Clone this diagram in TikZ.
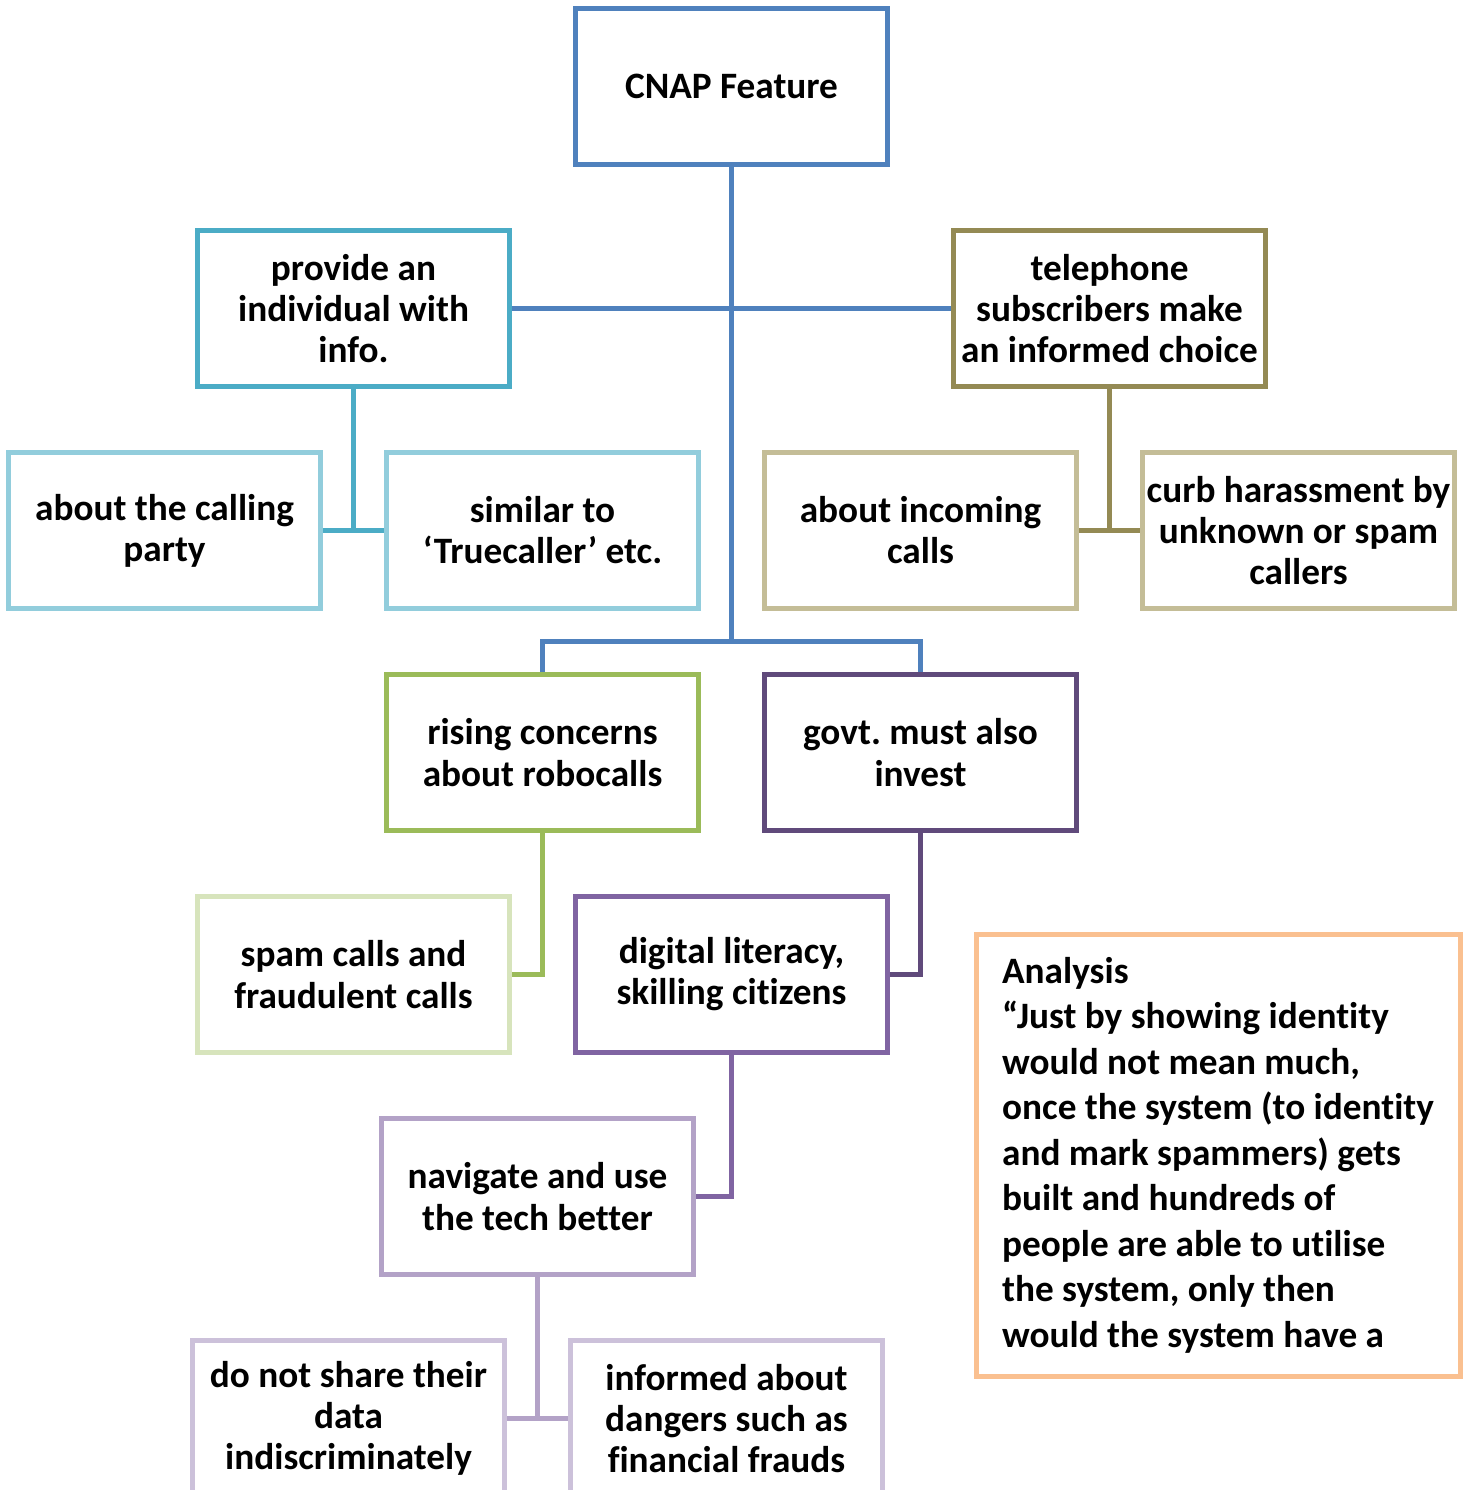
\documentclass[tikz,border=0pt]{standalone}
\usepackage{fontspec}
\setmainfont{Carlito}[Ligatures=NoCommon]
\usepackage{xcolor}
\usepackage{tikz}
\usetikzlibrary{positioning}
\frenchspacing

\definecolor{cnapblue}{HTML}{4F81BD}
\definecolor{cnapteal}{HTML}{4BACC6}
\definecolor{cnapteallight}{HTML}{92CDDC}
\definecolor{cnapolive}{HTML}{948A54}
\definecolor{cnapolivelight}{HTML}{C4BD97}
\definecolor{cnapgreen}{HTML}{9BBB59}
\definecolor{cnapgreenlight}{HTML}{D7E4BC}
\definecolor{cnapplum}{HTML}{604A7B}
\definecolor{cnappurple}{HTML}{8064A2}
\definecolor{cnaplilac}{HTML}{B3A2C7}
\definecolor{cnaplilaclight}{HTML}{CCC1DA}
\definecolor{cnaporange}{HTML}{FAC090}

\begin{document}
\begin{tikzpicture}[
                font=\fontsize{10.6}{11.7}\selectfont\bfseries,
                box/.style={rectangle, draw, line width=0.05cm, minimum width=3.12cm, minimum height=1.56cm, align=center, fill=white, inner sep=1pt},
                link/.style={draw, line width=0.05cm}
            ]

                \useasboundingbox (0,0) rectangle (14.68,-14.90);

                % --- BOXES ---
                \node[box, draw=cnapblue] (cnap) at (7.315,-0.865) {CNAP Feature};
                \node[box, draw=cnapteal] (provide) at (3.535,-3.085) {provide an\\individual with\\info.};
                \node[box, draw=cnapolive] (tele) at (11.095,-3.085) {telephone\\subscribers make\\an informed choice};
                \node[box, draw=cnapteallight] (calling) at (1.645,-5.305) {about the calling\\party};
                \node[box, draw=cnapteallight] (similar) at (5.425,-5.305) {similar to\\‘Truecaller’ etc.};
                \node[box, draw=cnapolivelight] (incoming) at (9.205,-5.305) {about incoming\\calls};
                \node[box, draw=cnapolivelight] (curb) at (12.985,-5.305) {curb harassment by\\unknown or spam\\callers};
                \node[box, draw=cnapgreen] (rising) at (5.425,-7.525) {rising concerns\\about robocalls};
                \node[box, draw=cnapplum] (govt) at (9.205,-7.525) {govt. must also\\invest};
                \node[box, draw=cnapgreenlight] (spam) at (3.535,-9.745) {spam calls and\\fraudulent calls};
                \node[box, draw=cnappurple] (digital) at (7.315,-9.745) {digital literacy,\\skilling citizens};
                \node[box, draw=cnaplilac] (navigate) at (5.375,-11.965) {navigate and use\\the tech better};
                \node[box, draw=cnaplilaclight] (share) at (3.485,-14.185) {do not share their\\data\\indiscriminately};
                \node[box, draw=cnaplilaclight] (informed) at (7.265,-14.185) {informed about\\dangers such as\\financial frauds};

                % --- ANALYSIS ---
                \node[box, draw=cnaporange, minimum width=4.84cm, minimum height=4.42cm, align=left,
                      font=\fontsize{10.6}{12.95}\selectfont\bfseries] (analysis) at (12.18,-11.55)
                    {Analysis\\“Just by showing identity\\would not mean much,\\once the system (to identity\\and mark spammers) gets\\built and hundreds of\\people are able to utilise\\the system, only then\\would the system have a};

                % --- CONNECTORS ---
                \coordinate (split) at (7.315,-6.41);
                \draw[link, cnapblue] (cnap.south) -- (split);
                \draw[link, cnapblue] (provide.east) -- (tele.west);
                \draw[link, cnapblue] (rising.north) |- (split) -| (govt.north);
                \draw[link, cnapteal] (provide.south) |- (calling.east);
                \draw[link, cnapteal] (provide.south) |- (similar.west);
                \draw[link, cnapolive] (tele.south) |- (incoming.east);
                \draw[link, cnapolive] (tele.south) |- (curb.west);
                \draw[link, cnapgreen] (rising.south) |- (spam.east);
                \draw[link, cnapplum] (govt.south) |- (digital.east);
                \draw[link, cnappurple] (digital.south) |- (navigate.east);
                \draw[link, cnaplilac] (navigate.south) |- (share.east);
                \draw[link, cnaplilac] (navigate.south) |- (informed.west);

            \end{tikzpicture}
\end{document}
